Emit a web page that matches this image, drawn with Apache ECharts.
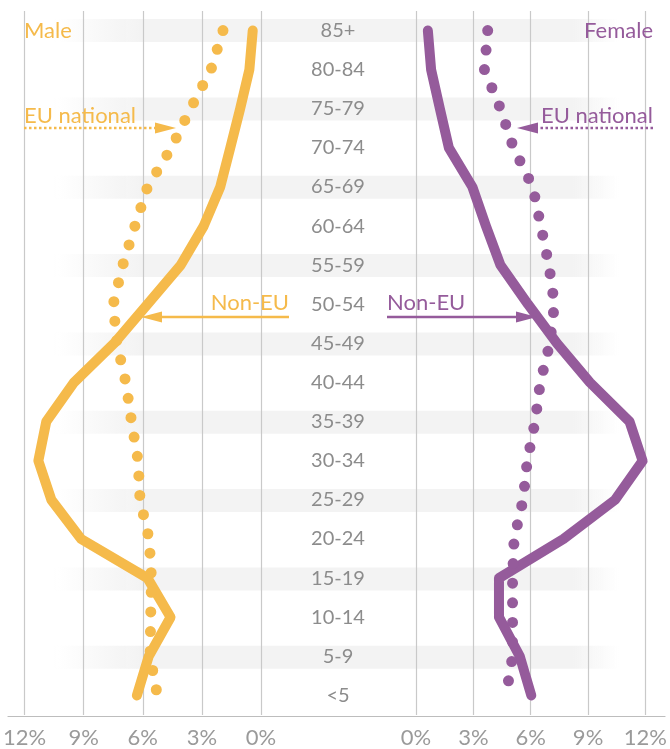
<!DOCTYPE html>
<html>
<head>
<meta charset="utf-8">
<script src="https://cdn.jsdelivr.net/npm/echarts@6/dist/echarts.min.js"></script>
<style>
  html, body { margin: 0; padding: 0; background: #fff; }
  #main { width: 670px; height: 749px; }
</style>
</head>
<body>
<div id="main"></div>
<script>
var dom = document.getElementById('main');
var myChart = echarts.init(dom, null, { renderer: 'canvas' });

// age groups, top to bottom
var ageGroups = ['85+', '80-84', '75-79', '70-74', '65-69', '60-64', '55-59', '50-54', '45-49',
                 '40-44', '35-39', '30-34', '25-29', '20-24', '15-19', '10-14', '5-9', '<5'];

// share of population (%)
var maleNonEU = [0.42, 0.59, 1.06, 1.56, 2.07, 2.91, 4.08, 5.76, 7.46,
                 9.5, 10.9, 11.3, 10.64, 9.13, 5.76, 4.59, 5.7, 6.3];
var maleEU = [1.93, 2.54, 3.58, 4.55, 5.76, 6.4, 7.02, 7.5, 7.31,
              6.86, 6.57, 6.24, 6.14, 5.68, 5.56, 5.6, 5.63, 5.26];
var femaleNonEU = [0.62, 0.79, 1.25, 1.72, 2.95, 3.66, 4.42, 5.86, 7.38,
                   9.1, 11.17, 11.85, 10.41, 7.71, 4.34, 4.34, 5.43, 6.03];
var femaleEU = [3.75, 3.58, 4.42, 5.1, 6.11, 6.53, 6.95, 7.24, 7.0,
                6.5, 6.23, 5.82, 5.6, 5.13, 5.05, 5.05, 5.05, 4.71];

// shaded rows (every other age group, starting with 85+)
var bandRows = ageGroups.map(function (a, i) { return i % 2 === 0 ? 1 : '-'; });

var tickLabels = [0, 3, 6, 9, 12];

var orange = '#f5ba4b';
var purple = '#955b9b';
var gray = '#8c8c8c';
var font = 'Lato';

var bandColor = new echarts.graphic.LinearGradient(0, 0, 1, 0, [
    { offset: 0, color: 'rgba(243,243,243,0)' },
    { offset: 0.07, color: 'rgba(243,243,243,0)' },
    { offset: 0.2, color: 'rgba(243,243,243,1)' },
    { offset: 0.86, color: 'rgba(243,243,243,1)' },
    { offset: 0.93, color: 'rgba(243,243,243,0)' },
    { offset: 1, color: 'rgba(243,243,243,0)' }
]);

function pctAxis(gridIndex, inverse) {
    return {
        type: 'value',
        gridIndex: gridIndex,
        inverse: inverse,
        min: 0,
        max: 12,
        interval: 3,
        axisLine: { show: false },
        axisTick: { show: false },
        splitLine: { show: true, lineStyle: { color: '#c9c9c9', width: 1.2 } },
        axisLabel: {
            color: '#9a9a9a',
            fontFamily: font,
            fontSize: 22,
            margin: 12,
            formatter: function (v) { return tickLabels.indexOf(v) >= 0 ? v + '%' : ''; }
        }
    };
}

function arrowHead(tipX, y, dir, color) {
    // dir = 1 : points right, -1 : points left
    return {
        type: 'polygon',
        z: 10,
        shape: { points: [[tipX, y], [tipX - dir * 21, y - 5.5], [tipX - dir * 21, y + 5.5]] },
        style: { fill: color }
    };
}

var option = {
    animation: false,
    grid: [
        { left: 23, top: 11, width: 238, height: 705 },
        { left: 416, top: 11, width: 237, height: 705 },
        { left: 8, top: 11, right: 5, height: 705 }
    ],
    xAxis: [
        pctAxis(0, true),
        pctAxis(1, false),
        {
            type: 'value', gridIndex: 2, min: 0, max: 1,
            axisLine: { show: true, lineStyle: { color: '#bdbdbd', width: 1.2 } },
            axisTick: { show: false }, axisLabel: { show: false }, splitLine: { show: false }
        }
    ],
    yAxis: [
        {
            type: 'category', gridIndex: 0, data: ageGroups, inverse: true,
            position: 'right',
            axisLine: { show: false }, axisTick: { show: false },
            axisLabel: { color: gray, fontFamily: font, fontSize: 20, margin: 77, align: 'center' }
        },
        {
            type: 'category', gridIndex: 1, data: ageGroups, inverse: true,
            axisLine: { show: false }, axisTick: { show: false }, axisLabel: { show: false }
        },
        {
            type: 'category', gridIndex: 2, data: ageGroups, inverse: true,
            axisLine: { show: false }, axisTick: { show: false }, axisLabel: { show: false }
        }
    ],
    series: [
        {
            name: 'bands', type: 'bar', xAxisIndex: 2, yAxisIndex: 2, z: -1,
            data: bandRows, barWidth: 23, silent: true,
            itemStyle: { color: bandColor }
        },
        {
            name: 'Male Non-EU', type: 'line', xAxisIndex: 0, yAxisIndex: 0,
            data: maleNonEU, showSymbol: false, z: 3,
            lineStyle: { color: orange, width: 10, cap: 'round', join: 'round' }
        },
        {
            name: 'Male EU national', type: 'line', xAxisIndex: 0, yAxisIndex: 0,
            data: maleEU, showSymbol: false, z: 4,
            lineStyle: { color: orange, width: 11, cap: 'round', type: [0, 19.6] }
        },
        {
            name: 'Female Non-EU', type: 'line', xAxisIndex: 1, yAxisIndex: 1,
            data: femaleNonEU, showSymbol: false, z: 3,
            lineStyle: { color: purple, width: 10, cap: 'round', join: 'round' }
        },
        {
            name: 'Female EU national', type: 'line', xAxisIndex: 1, yAxisIndex: 1,
            data: femaleEU, showSymbol: false, z: 4,
            lineStyle: { color: purple, width: 11, cap: 'round', type: [0, 19.6] }
        }
    ],
    graphic: [
        // titles
        { type: 'text', x: 24, y: 31, z: 10,
          style: { text: 'Male', fill: orange, font: '22px ' + font, verticalAlign: 'middle' } },
        { type: 'text', x: 653, y: 31, z: 10,
          style: { text: 'Female', fill: purple, font: '22px ' + font, align: 'right', verticalAlign: 'middle' } },

        // left annotations
        { type: 'text', x: 24, y: 116, z: 10,
          style: { text: 'EU national', fill: orange, font: '22px ' + font, verticalAlign: 'middle' } },
        { type: 'line', z: 10, shape: { x1: 24, y1: 128, x2: 158, y2: 128 },
          style: { stroke: orange, lineWidth: 2.5, lineDash: [2.5, 2.5] } },
        arrowHead(176, 128, 1, orange),
        { type: 'text', x: 289, y: 303, z: 10,
          style: { text: 'Non-EU', fill: orange, font: '22px ' + font, align: 'right', verticalAlign: 'middle' } },
        { type: 'line', z: 10, shape: { x1: 289, y1: 317, x2: 158, y2: 317 },
          style: { stroke: orange, lineWidth: 2.5 } },
        arrowHead(141, 317, -1, orange),

        // right annotations
        { type: 'text', x: 653, y: 116, z: 10,
          style: { text: 'EU national', fill: purple, font: '22px ' + font, align: 'right', verticalAlign: 'middle' } },
        { type: 'line', z: 10, shape: { x1: 653, y1: 128, x2: 535, y2: 128 },
          style: { stroke: purple, lineWidth: 2.5, lineDash: [2.5, 2.5] } },
        arrowHead(517, 128, -1, purple),
        { type: 'text', x: 387, y: 303, z: 10,
          style: { text: 'Non-EU', fill: purple, font: '22px ' + font, verticalAlign: 'middle' } },
        { type: 'line', z: 10, shape: { x1: 387, y1: 317, x2: 519, y2: 317 },
          style: { stroke: purple, lineWidth: 2.5 } },
        arrowHead(537, 317, 1, purple)
    ]
};

if (option && typeof option === 'object') {
    myChart.setOption(option);
}

window.addEventListener('resize', myChart.resize);
</script>
</body>
</html>
